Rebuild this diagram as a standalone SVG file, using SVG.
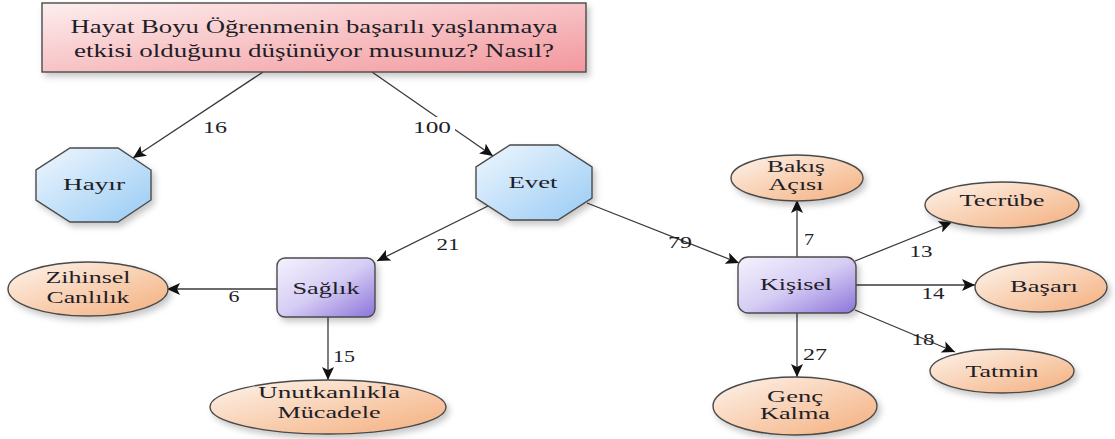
<svg xmlns="http://www.w3.org/2000/svg" width="1115" height="439" viewBox="0 0 1115 439" font-family="Liberation Serif">
<style>
text{fill:#1e1e28;text-anchor:middle}
.t{font-size:18px}
.n{font-size:17px}
.e{font-size:16px}
.edge{stroke:#3a3a3a;stroke-width:1.3;fill:none;marker-end:url(#arr)}
.shape{stroke:#4a4a4a;stroke-width:1.4;filter:url(#sh)}
</style>
<defs>
<filter id="sh" x="-20%" y="-20%" width="150%" height="160%">
<feDropShadow dx="3" dy="4" stdDeviation="3" flood-color="#000" flood-opacity="0.22"/>
</filter>
<marker id="arr" markerUnits="userSpaceOnUse" markerWidth="14" markerHeight="12" refX="13" refY="6" orient="auto">
<path d="M0,0 L13,6 L0,12 L3,6 z" fill="#111"/>
</marker>
<linearGradient id="gPink" x1="0" y1="0" x2="1" y2="1">
<stop offset="0" stop-color="#fdeeee"/><stop offset="1" stop-color="#f2979c"/>
</linearGradient>
<linearGradient id="gBlue" x1="0" y1="0" x2="1" y2="1">
<stop offset="0" stop-color="#f0f7fe"/><stop offset="1" stop-color="#98cbf4"/>
</linearGradient>
<linearGradient id="gPurp" x1="0" y1="0" x2="1" y2="1">
<stop offset="0" stop-color="#f5f2fd"/><stop offset="0.5" stop-color="#d6cdf4"/><stop offset="1" stop-color="#8c74da"/>
</linearGradient>
<linearGradient id="gPeach" x1="0" y1="0" x2="1" y2="1">
<stop offset="0" stop-color="#fdf4ec"/><stop offset="1" stop-color="#f4ae7c"/>
</linearGradient>
</defs>

<g id="connectors">
<line class="edge" x1="263" y1="72" x2="133" y2="158"/>
<line class="edge" x1="372" y1="72" x2="493" y2="156"/>
<line class="edge" x1="488" y1="206" x2="377" y2="261"/>
<line class="edge" x1="587" y1="203" x2="739" y2="263"/>
<line class="edge" x1="277" y1="289" x2="167" y2="289"/>
<line class="edge" x1="328" y1="317" x2="328" y2="380"/>
<line class="edge" x1="797" y1="257" x2="797" y2="200"/>
<line class="edge" x1="855" y1="261" x2="952" y2="222"/>
<line class="edge" x1="856" y1="285" x2="975" y2="285"/>
<line class="edge" x1="855" y1="310" x2="955" y2="352"/>
<line class="edge" x1="797" y1="313" x2="797" y2="377"/>
<rect x="411" y="117" width="44" height="15" fill="#fff"/>
<text class="e" x="215" y="133" textLength="24" lengthAdjust="spacingAndGlyphs">16</text>
<text class="e" x="432" y="133" textLength="38" lengthAdjust="spacingAndGlyphs">100</text>
<text class="e" x="448" y="250" textLength="23" lengthAdjust="spacingAndGlyphs">21</text>
<text class="e" x="680" y="248" textLength="24" lengthAdjust="spacingAndGlyphs">79</text>
<text class="e" x="234" y="302" textLength="11" lengthAdjust="spacingAndGlyphs">6</text>
<text class="e" x="344" y="362" textLength="22" lengthAdjust="spacingAndGlyphs">15</text>
<text class="e" x="809" y="245" textLength="10" lengthAdjust="spacingAndGlyphs">7</text>
<text class="e" x="921" y="257" textLength="23" lengthAdjust="spacingAndGlyphs">13</text>
<text class="e" x="933" y="299" textLength="23" lengthAdjust="spacingAndGlyphs">14</text>
<text class="e" x="923" y="345" textLength="23" lengthAdjust="spacingAndGlyphs">18</text>
<text class="e" x="815" y="360" textLength="24" lengthAdjust="spacingAndGlyphs">27</text>
</g>

<g id="question">
<rect class="shape" x="42" y="3" width="544" height="69" fill="url(#gPink)"/>
<text class="t" x="314" y="33" textLength="487" lengthAdjust="spacingAndGlyphs">Hayat Boyu Öğrenmenin başarılı yaşlanmaya</text>
<text class="t" x="314" y="57" textLength="480" lengthAdjust="spacingAndGlyphs">etkisi olduğunu düşünüyor musunuz? Nasıl?</text>
</g>

<g id="hayir">
<polygon class="shape" points="70,148 118,148 151,170 151,200 118,222 70,222 36,200 36,170" fill="url(#gBlue)"/>
<text class="n" x="94" y="190" textLength="62" lengthAdjust="spacingAndGlyphs">Hayır</text>
</g>

<g id="evet">
<polygon class="shape" points="510,145 558,145 592,167 592,198 558,220 510,220 476,198 476,167" fill="url(#gBlue)"/>
<text class="n" x="533" y="188" textLength="49" lengthAdjust="spacingAndGlyphs">Evet</text>
</g>

<g id="saglik">
<rect class="shape" x="277" y="258" width="98" height="59" rx="8" fill="url(#gPurp)"/>
<text class="n" x="326" y="294" textLength="67" lengthAdjust="spacingAndGlyphs">Sağlık</text>
</g>

<g id="kisisel">
<rect class="shape" x="738" y="257" width="118" height="56" rx="10" fill="url(#gPurp)"/>
<text class="n" x="796" y="290" textLength="72" lengthAdjust="spacingAndGlyphs">Kişisel</text>
</g>

<g id="zihinsel">
<ellipse class="shape" cx="88" cy="289" rx="80" ry="27" fill="url(#gPeach)"/>
<text class="n" x="88" y="283" textLength="85" lengthAdjust="spacingAndGlyphs">Zihinsel</text>
<text class="n" x="88" y="303" textLength="83" lengthAdjust="spacingAndGlyphs">Canlılık</text>
</g>

<g id="unutkanlik">
<ellipse class="shape" cx="328" cy="407" rx="118" ry="27" fill="url(#gPeach)"/>
<text class="n" x="329" y="398" textLength="142" lengthAdjust="spacingAndGlyphs">Unutkanlıkla</text>
<text class="n" x="329" y="418" textLength="103" lengthAdjust="spacingAndGlyphs">Mücadele</text>
</g>

<g id="bakis">
<ellipse class="shape" cx="797" cy="178" rx="66" ry="23" fill="url(#gPeach)"/>
<text class="n" x="796" y="172" textLength="58" lengthAdjust="spacingAndGlyphs">Bakış</text>
<text class="n" x="796" y="190" textLength="55" lengthAdjust="spacingAndGlyphs">Açısı</text>
</g>

<g id="tecrube">
<ellipse class="shape" cx="1002" cy="205" rx="77" ry="23" fill="url(#gPeach)"/>
<text class="n" x="1002" y="206" textLength="85" lengthAdjust="spacingAndGlyphs">Tecrübe</text>
</g>

<g id="basari">
<ellipse class="shape" cx="1041" cy="287" rx="66" ry="25" fill="url(#gPeach)"/>
<text class="n" x="1044" y="292" textLength="68" lengthAdjust="spacingAndGlyphs">Başarı</text>
</g>

<g id="tatmin">
<ellipse class="shape" cx="1002" cy="371" rx="72" ry="22" fill="url(#gPeach)"/>
<text class="n" x="1002" y="377" textLength="73" lengthAdjust="spacingAndGlyphs">Tatmin</text>
</g>

<g id="genc">
<ellipse class="shape" cx="795" cy="406" rx="82" ry="29" fill="url(#gPeach)"/>
<text class="n" x="795" y="402" textLength="56" lengthAdjust="spacingAndGlyphs">Genç</text>
<text class="n" x="795" y="419" textLength="70" lengthAdjust="spacingAndGlyphs">Kalma</text>
</g>
</svg>
